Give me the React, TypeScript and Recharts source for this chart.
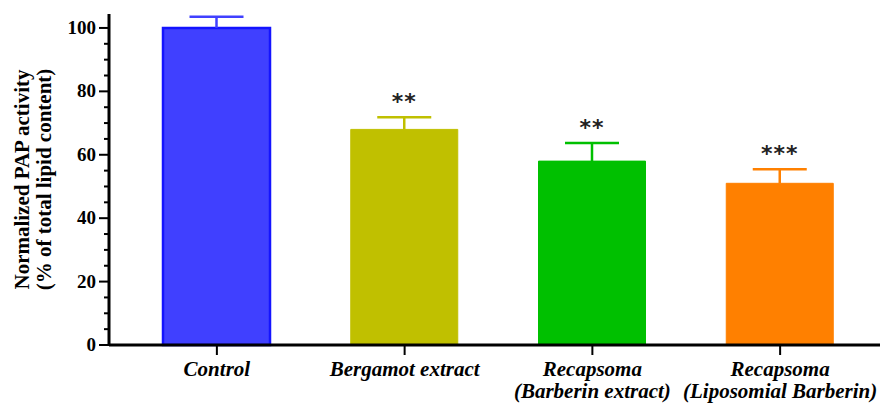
import React from "react";
import {
  BarChart,
  Bar,
  Cell,
  XAxis,
  YAxis,
  LabelList,
} from "recharts";

// group labels (second line optional)
const groups = [
  ["Control"],
  ["Bergamot extract"],
  ["Recapsoma", "(Barberin extract)"],
  ["Recapsoma", "(Liposomial Barberin)"],
];
const means = [100, 68, 58, 51];
const errors = [3.5, 3.8, 5.7, 4.4];
const stars = ["", "**", "**", "***"];
const fills = ["#4040ff", "#c0c000", "#00c000", "#ff8000"];
const yTicks = [0, 5, 10, 15, 20, 25, 30, 35, 40, 45, 50, 55, 60, 65, 70, 75, 80, 85, 90, 95, 100];

const data = groups.map((g, i) => ({
  name: g.join("\n"),
  mean: means[i],
  sem: errors[i],
  sig: stars[i],
  color: fills[i],
}));

const serif = "'Liberation Serif', 'Times New Roman', serif";

const YTick = ({ x, y, payload }: any) => {
  const major = payload.value % 20 === 0;
  return (
    <g>
      <line x1={x - (major ? 10 : 5)} x2={x} y1={y} y2={y} stroke="#000" strokeWidth={2} />
      {major && (
        <text
          x={x - 13}
          y={y}
          dy={6}
          textAnchor="end"
          fontFamily={serif}
          fontWeight="bold"
          fontSize={19}
          fill="#000"
        >
          {payload.value}
        </text>
      )}
    </g>
  );
};

const XTick = ({ x, y, payload }: any) => {
  const lines = String(payload.value).split("\n");
  return (
    <text
      x={x}
      y={y}
      textAnchor="middle"
      fontFamily={serif}
      fontWeight="bold"
      fontStyle="italic"
      fontSize={21}
      fill="#000"
    >
      {lines.map((l, i) => (
        <tspan key={i} x={x} dy={i === 0 ? 19 : 22}>
          {l}
        </tspan>
      ))}
    </text>
  );
};

const Whisker = ({ x, y, width, height, payload }: any) => {
  const cx = x + width / 2;
  return (
    <g stroke={payload.color} strokeWidth={2.5}>
      <line x1={cx} x2={cx} y1={y + height} y2={y} />
      <line x1={cx - 27} x2={cx + 27} y1={y} y2={y} />
    </g>
  );
};

const YLabel = ({ viewBox }: any) => {
  const cy = viewBox.y + viewBox.height / 2;
  return (
    <g fontFamily={serif} fontWeight="bold" fontSize={21} fill="#000">
      <text x={29} y={cy} textAnchor="middle" transform={`rotate(-90 29 ${cy})`}>
        Normalized PAP activity
      </text>
      <text x={51} y={cy} textAnchor="middle" transform={`rotate(-90 51 ${cy})`}>
        (% of total lipid content)
      </text>
    </g>
  );
};

export default function App() {
  return (
    <div style={{ position: "absolute", left: 0, top: 0, background: "#fff" }}>
      <BarChart
        width={880}
        height={403}
        data={data}
        margin={{ top: 14, right: 0, left: 0, bottom: 0 }}
      >
        <XAxis
          dataKey="name"
          interval={0}
          padding={{ left: 14, right: 6 }}
          axisLine={{ stroke: "#000", strokeWidth: 3 }}
          tickLine={{ stroke: "#000", strokeWidth: 2 }}
          tickSize={10}
          tick={<XTick />}
          height={58}
        />
        <YAxis
          width={109}
          domain={[0, 104.4]}
          ticks={yTicks}
          interval={0}
          axisLine={{ stroke: "#000", strokeWidth: 3 }}
          tickLine={false}
          tickSize={0}
          tickMargin={0}
          tick={<YTick />}
          label={<YLabel />}
        />
        <Bar dataKey="mean" stackId="s" barSize={107} isAnimationActive={false}>
          {data.map((d, i) => (
            <Cell
              key={i}
              fill={d.color}
              stroke={i === 0 ? "#1414ff" : d.color}
              strokeWidth={i === 0 ? 2.5 : 1}
            />
          ))}
        </Bar>
        <Bar
          dataKey="sem"
          stackId="s"
          barSize={107}
          shape={<Whisker />}
          isAnimationActive={false}
        >
          <LabelList
            dataKey="sig"
            content={(p: any) => (
              <text
                x={p.x + p.width / 2}
                y={p.y - 8}
                textAnchor="middle"
                fontFamily="'DejaVu Sans', sans-serif"
                fontWeight="bold"
                fontSize={22}
                letterSpacing={1}
                fill="#222"
              >
                {p.value}
              </text>
            )}
          />
        </Bar>
      </BarChart>
    </div>
  );
}
